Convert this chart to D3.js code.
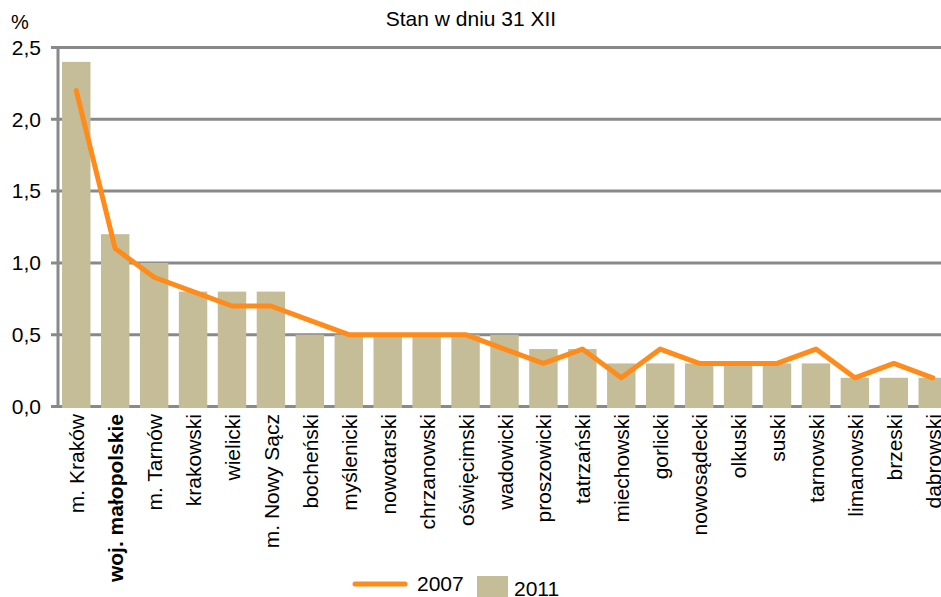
<!DOCTYPE html>
<html><head><meta charset="utf-8">
<script src="https://cdn.jsdelivr.net/npm/d3@7"></script>
<style>body{margin:0;background:#fff;}svg{display:block;font-family:"Liberation Sans",Arial,sans-serif;}</style>
</head><body>
<svg id="c" width="941" height="597"></svg>
<script>
const categories = ["m. Kraków","woj. małopolskie","m. Tarnów","krakowski","wielicki","m. Nowy Sącz","bocheński","myślenicki","nowotarski","chrzanowski","oświęcimski","wadowicki","proszowicki","tatrzański","miechowski","gorlicki","nowosądecki","olkuski","suski","tarnowski","limanowski","brzeski","dąbrowski"];
const values2011 = [2.4,1.2,1.0,0.8,0.8,0.8,0.5,0.5,0.5,0.5,0.5,0.5,0.4,0.4,0.3,0.3,0.3,0.3,0.3,0.3,0.2,0.2,0.2];
const values2007 = [2.2,1.1,0.9,0.8,0.7,0.7,0.6,0.5,0.5,0.5,0.5,0.4,0.3,0.4,0.2,0.4,0.3,0.3,0.3,0.4,0.2,0.3,0.2];
const yTicks = [0,0.5,1.0,1.5,2.0,2.5];
const seriesNames = ["2007","2011"];
const boldCategory = "woj. małopolskie";

const svg = d3.select("#c");
const barColor = "#c4bd97", lineColor = "#ff8c1a", gridColor = "#898989";
const x = d3.scaleBand().domain(categories).range([57, 952]).paddingInner(0.27).paddingOuter(0.13);
const y = d3.scaleLinear().domain([0, 2.5]).range([406.5, 47.5]);
const fmt = d => d3.format(".1f")(d).replace(".", ",");

// gridlines
svg.append("g").selectAll("line").data(yTicks).join("line")
  .attr("x1", 51).attr("x2", 941).attr("y1", d => y(d)).attr("y2", d => y(d))
  .attr("stroke", gridColor).attr("stroke-width", 3);
// y axis line
svg.append("line").attr("x1", 58).attr("x2", 58).attr("y1", y(2.5)).attr("y2", y(0))
  .attr("stroke", gridColor).attr("stroke-width", 3);
// y tick labels
svg.append("g").selectAll("text").data(yTicks).join("text")
  .attr("x", 41).attr("y", d => y(d)).attr("dy", "0.35em").attr("text-anchor", "end")
  .attr("font-size", 21).attr("fill", "#000").text(fmt);

// bars
svg.append("g").selectAll("rect").data(categories).join("rect")
  .attr("x", d => x(d)).attr("width", x.bandwidth())
  .attr("y", (d, i) => y(values2011[i])).attr("height", (d, i) => y(0) + 1.5 - y(values2011[i]))
  .attr("fill", barColor);

// line
const line = d3.line().x((d, i) => x(categories[i]) + x.bandwidth() / 2).y(d => y(d));
svg.append("path").datum(values2007).attr("d", line)
  .attr("fill", "none").attr("stroke", lineColor).attr("stroke-width", 5)
  .attr("stroke-linejoin", "round").attr("stroke-linecap", "round");

// x labels
svg.append("g").selectAll("text").data(categories).join("text")
  .attr("transform", d => `translate(${x(d) + x.bandwidth() / 2 + 8},414) rotate(-90)`)
  .attr("text-anchor", "end").attr("font-size", 21)
  .attr("font-weight", d => d === boldCategory ? "bold" : "normal")
  .text(d => d);

// texts
svg.append("text").attr("x", 471).attr("y", 26).attr("text-anchor", "middle").attr("font-size", 21).text("Stan w dniu 31 XII");
svg.append("text").attr("x", 20).attr("y", 29).attr("text-anchor", "middle").attr("font-size", 20).text("%");

// legend
const lg = svg.append("g");
lg.append("line").attr("x1", 355).attr("x2", 405).attr("y1", 584).attr("y2", 584)
  .attr("stroke", lineColor).attr("stroke-width", 5).attr("stroke-linecap", "round");
lg.append("text").attr("x", 417).attr("y", 591).attr("font-size", 21).text(seriesNames[0]);
lg.append("rect").attr("x", 477).attr("y", 576).attr("width", 31).attr("height", 25).attr("fill", barColor);
lg.append("text").attr("x", 514).attr("y", 596).attr("font-size", 21).text(seriesNames[1]);
</script>
</body></html>
